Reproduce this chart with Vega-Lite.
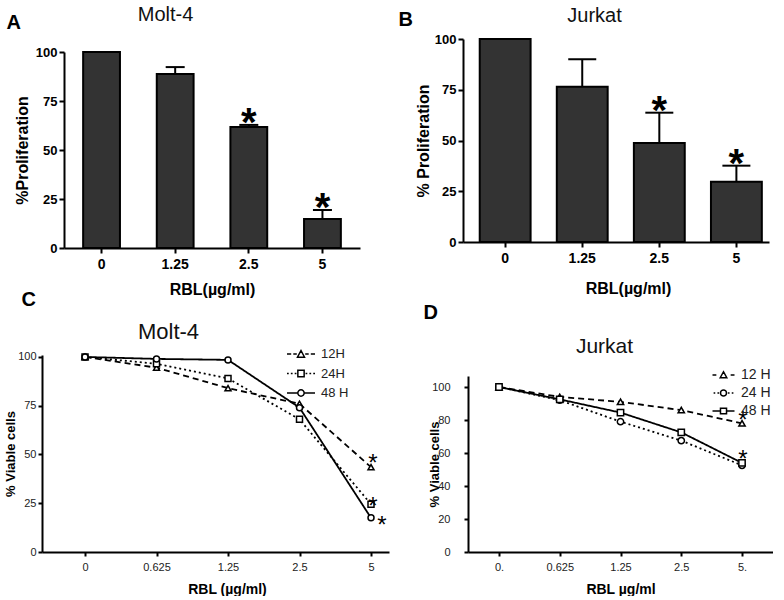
{
  "$schema": "https://vega.github.io/schema/vega-lite/v6.json",
  "background": "white",
  "padding": {"left": 4, "top": 4, "right": 0, "bottom": 0},
  "config": {
    "view": {"stroke": null},
    "font": "Liberation Sans",
    "axis": {"domainColor": "#000", "domainWidth": 2, "tickColor": "#000", "tickWidth": 2, "tickSize": 5, "labelColor": "#000", "titleColor": "#000", "grid": false, "labelFont": "Liberation Sans", "titleFont": "Liberation Sans"}
  },
  "bounds": "flush",
  "columns": 2,
  "spacing": {"row": 107, "column": 74},
  "resolve": {"scale": {"shape": "independent", "strokeDash": "independent", "stroke": "independent"}, "legend": {"shape": "independent", "strokeDash": "independent", "stroke": "independent"}},
  "concat": [
    {
      "width": 318, "height": 209,
      "resolve": {"scale": {"x": "independent", "y": "independent"}},
      "layer": [
        {
          "data": {"values": [
            {"dose": "0", "mean": 100, "upper": 100, "sig": false},
            {"dose": "1.25", "mean": 88.8, "upper": 92.3, "sig": false},
            {"dose": "2.5", "mean": 61.7, "upper": 62.8, "sig": true},
            {"dose": "5", "mean": 14.8, "upper": 19.4, "sig": true}
          ]},
          "encoding": {"x": {"field": "dose", "type": "nominal", "sort": null,
            "scale": {"range": [22, 318], "paddingInner": 0.5, "paddingOuter": 0.26},
            "axis": {"title": "RBL(µg/ml)", "labelAngle": 0, "labelFontSize": 14, "labelFontWeight": "bold", "labelPadding": 4, "titleFontSize": 16, "titleFontWeight": "bold", "titleY": 46, "titleBaseline": "alphabetic"}}},
          "layer": [
            {"mark": {"type": "bar", "fill": "#333", "stroke": "#000", "strokeWidth": 2, "opacity": 1},
             "encoding": {"y": {"field": "mean", "type": "quantitative", "scale": {"domain": [0, 100], "nice": false, "range": [209, 13]},
               "axis": {"values": [0, 25, 50, 75, 100], "offset": -22, "title": "%Proliferation", "labelFontSize": 13, "labelFontWeight": "bold", "titleFontSize": 16, "titleFontWeight": "bold", "titleX": -37, "titleBaseline": "alphabetic"}}}},
            {"transform": [{"filter": "datum.upper > datum.mean"}],
             "mark": {"type": "rule", "stroke": "#000", "strokeWidth": 2},
             "encoding": {"y": {"field": "mean", "type": "quantitative"}, "y2": {"field": "upper"}}},
            {"transform": [{"filter": "datum.upper > datum.mean"}],
             "mark": {"type": "tick", "color": "#000", "thickness": 2, "size": 19, "orient": "horizontal", "opacity": 1},
             "encoding": {"y": {"field": "upper", "type": "quantitative"}}},
            {"transform": [{"filter": "datum.sig"}],
             "mark": {"type": "text", "text": "*", "fontSize": 40, "fontWeight": "bold", "baseline": "alphabetic", "dy": 11, "color": "#000"},
             "encoding": {"y": {"field": "upper", "type": "quantitative"}}}
          ]
        },
        {
          "data": {"values": [{"k": "a"}]},
          "mark": {"type": "point", "opacity": 0},
          "encoding": {
            "x": {"field": "k", "type": "nominal", "axis": {"orient": "top", "title": "Molt-4", "labels": false, "ticks": false, "domain": false, "titleX": 123, "titleY": -19, "titleAlign": "center", "titleBaseline": "alphabetic", "titleFontSize": 20, "titleFontWeight": "normal", "titleColor": "#111"}},
            "y": {"field": "k", "type": "nominal", "axis": {"orient": "right", "title": "A", "labels": false, "ticks": false, "domain": false, "titleAngle": 0, "titleX": -354, "titleY": -11, "titleAlign": "left", "titleBaseline": "alphabetic", "titleFontSize": 20, "titleFontWeight": "bold"}}
          }
        }
      ]
    },
    {
      "width": 306, "height": 203,
      "resolve": {"scale": {"x": "independent", "y": "independent"}},
      "layer": [
        {
          "data": {"values": [
            {"dose": "0", "mean": 100, "upper": 100, "sig": false},
            {"dose": "1.25", "mean": 76.5, "upper": 90, "sig": false},
            {"dose": "2.5", "mean": 48.8, "upper": 63.7, "sig": true},
            {"dose": "5", "mean": 29.7, "upper": 37.6, "sig": true}
          ]},
          "encoding": {"x": {"field": "dose", "type": "nominal", "sort": null,
            "scale": {"paddingInner": 0.34, "paddingOuter": 0.155, "align": 0.7},
            "axis": {"title": "RBL(µg/ml)", "labelAngle": 0, "labelFontSize": 14, "labelFontWeight": "bold", "labelPadding": 4, "titleFontSize": 16, "titleFontWeight": "bold", "titleX": 165, "titleY": 51, "titleBaseline": "alphabetic"}}},
          "layer": [
            {"mark": {"type": "bar", "fill": "#333", "stroke": "#000", "strokeWidth": 2, "opacity": 1},
             "encoding": {"y": {"field": "mean", "type": "quantitative", "scale": {"domain": [0, 100], "nice": false},
               "axis": {"values": [0, 25, 50, 75, 100], "title": "% Proliferation", "labelFontSize": 13, "labelFontWeight": "bold", "titleFontSize": 16, "titleFontWeight": "bold", "titleX": -35, "titleBaseline": "alphabetic"}}}},
            {"transform": [{"filter": "datum.upper > datum.mean"}],
             "mark": {"type": "rule", "stroke": "#000", "strokeWidth": 2},
             "encoding": {"y": {"field": "mean", "type": "quantitative"}, "y2": {"field": "upper"}}},
            {"transform": [{"filter": "datum.upper > datum.mean"}],
             "mark": {"type": "tick", "color": "#000", "thickness": 2, "size": 28, "orient": "horizontal", "opacity": 1},
             "encoding": {"y": {"field": "upper", "type": "quantitative"}}},
            {"transform": [{"filter": "datum.sig"}],
             "mark": {"type": "text", "text": "*", "fontSize": 40, "fontWeight": "bold", "baseline": "alphabetic", "dy": 11, "color": "#000"},
             "encoding": {"y": {"field": "upper", "type": "quantitative"}}}
          ]
        },
        {
          "data": {"values": [{"k": "b"}]},
          "mark": {"type": "point", "opacity": 0},
          "encoding": {
            "x": {"field": "k", "type": "nominal", "axis": {"orient": "top", "title": "Jurkat", "labels": false, "ticks": false, "domain": false, "titleX": 131, "titleY": -18, "titleAlign": "center", "titleBaseline": "alphabetic", "titleFontSize": 20, "titleFontWeight": "normal", "titleColor": "#111"}},
            "y": {"field": "k", "type": "nominal", "axis": {"orient": "right", "title": "B", "labels": false, "ticks": false, "domain": false, "titleAngle": 0, "titleX": -371, "titleY": -14, "titleAlign": "left", "titleBaseline": "alphabetic", "titleFontSize": 20, "titleFontWeight": "bold"}}
          }
        }
      ]
    },
    {
      "width": 347, "height": 197,
      "resolve": {"scale": {"x": "independent", "y": "independent"}},
      "layer": [
        {
          "data": {"values": [
            {"dose": "0", "series": "12H", "v": 100},
            {"dose": "0.625", "series": "12H", "v": 94.5},
            {"dose": "1.25", "series": "12H", "v": 84},
            {"dose": "2.5", "series": "12H", "v": 76},
            {"dose": "5", "series": "12H", "v": 43.5},
            {"dose": "0", "series": "24H", "v": 100},
            {"dose": "0.625", "series": "24H", "v": 96.5},
            {"dose": "1.25", "series": "24H", "v": 89},
            {"dose": "2.5", "series": "24H", "v": 68},
            {"dose": "5", "series": "24H", "v": 24.5},
            {"dose": "0", "series": "48 H", "v": 100},
            {"dose": "0.625", "series": "48 H", "v": 99},
            {"dose": "1.25", "series": "48 H", "v": 98.5},
            {"dose": "2.5", "series": "48 H", "v": 74},
            {"dose": "5", "series": "48 H", "v": 17.5}
          ]},
          "encoding": {
            "x": {"field": "dose", "type": "ordinal",
              "scale": {"type": "point", "domain": ["0", "0.625", "1.25", "2.5", "5"], "padding": 0.4266, "align": 0.705},
              "axis": {"title": "RBL (µg/ml)", "labelAngle": 0, "labelFontSize": 11, "labelFont": "Liberation Sans Narrow, Liberation Sans", "labelColor": "#222", "labelPadding": 5, "tickSize": 4, "titleFontSize": 14, "titleFontWeight": "bold", "titleX": 185, "titleY": 41, "titleBaseline": "alphabetic"}},
            "y": {"field": "v", "type": "quantitative", "scale": {"domain": [0, 101], "nice": false},
              "axis": {"values": [0, 25, 50, 75, 100], "title": "% Viable cells", "labelFontSize": 11, "labelFont": "Liberation Sans Narrow, Liberation Sans", "labelColor": "#222", "tickSize": 4, "titleFontSize": 13, "titleFontWeight": "bold", "titleX": -28, "titleBaseline": "alphabetic"}}
          },
          "layer": [
            {"mark": {"type": "line", "color": "#000", "strokeWidth": 1.8},
             "encoding": {"strokeDash": {"field": "series", "type": "nominal", "scale": {"range": [[6, 4], [2, 3], [1, 0]]}, "legend": null}}},
            {"mark": {"type": "point", "filled": true, "fill": "#fff", "strokeWidth": 1.5, "size": 36, "opacity": 1},
             "encoding": {
               "shape": {"field": "series", "type": "nominal", "scale": {"range": ["triangle-up", "square", "circle"]}, "legend": null},
               "stroke": {"field": "series", "type": "nominal",
                 "scale": {"domain": ["12H", "24H", "48 H"], "range": ["#000", "#000", "#000"]},
                 "legend": {"orient": "none", "legendX": 251, "legendY": -9, "title": null, "labelFontSize": 13, "labelColor": "#222", "labelFont": "Liberation Sans",
                   "symbolSize": 196, "symbolStrokeWidth": 1.5, "symbolFillColor": "#fff", "labelOffset": 12, "rowPadding": 4.5, "padding": 0,
                   "encoding": {"symbols": {
                     "shape": {"value": {"expr": "datum.value === '12H' ? 'M-2,0H-1.4M-1.1,0H-0.6M0.6,0H1.1M1.4,0H2M-0.5,0.45L0,-0.5L0.5,0.45Z' : datum.value === '24H' ? 'M-2,0H-1.75M-1.45,0H-1.2M-0.9,0H-0.65M0.65,0H0.9M1.2,0H1.45M1.75,0H2M-0.45,-0.45H0.45V0.45H-0.45Z' : 'M-2,0H-0.45M0.45,0H2M-0.45,0A0.45,0.45 0 1,0 0.45,0A0.45,0.45 0 1,0 -0.45,0Z'"}},
                     "fill": {"value": "#fff"}, "strokeWidth": {"value": 1.5}, "opacity": {"value": 1}}},
                   "encode": {"symbols": {"update": {
                     "shape": {"signal": "datum.value === '12H' ? 'M-2,0H-1.4M-1.1,0H-0.6M0.6,0H1.1M1.4,0H2M-0.5,0.45L0,-0.5L0.5,0.45Z' : datum.value === '24H' ? 'M-2,0H-1.75M-1.45,0H-1.2M-0.9,0H-0.65M0.65,0H0.9M1.2,0H1.45M1.75,0H2M-0.45,-0.45H0.45V0.45H-0.45Z' : 'M-2,0H-0.45M0.45,0H2M-0.45,0A0.45,0.45 0 1,0 0.45,0A0.45,0.45 0 1,0 -0.45,0Z'"},
                     "fill": {"value": "#fff"}, "strokeWidth": {"value": 1.5}, "opacity": {"value": 1}}}}}}
             }},
            {"data": {"values": [{"dose": "5", "v": 48.7}, {"dose": "5", "v": 26.7}]},
             "mark": {"type": "text", "text": "*", "fontSize": 24, "baseline": "alphabetic", "dy": 14, "dx": 2, "color": "#000"}},
            {"data": {"values": [{"dose": "5", "v": 17}]},
             "mark": {"type": "text", "text": "*", "fontSize": 24, "baseline": "alphabetic", "dy": 14, "dx": 11, "color": "#000"}}
          ]
        },
        {
          "data": {"values": [{"k": "c"}]},
          "mark": {"type": "point", "opacity": 0},
          "encoding": {
            "x": {"field": "k", "type": "nominal", "axis": {"orient": "top", "title": "Molt-4", "labels": false, "ticks": false, "domain": false, "titleX": 126, "titleY": -17, "titleAlign": "center", "titleBaseline": "alphabetic", "titleFontSize": 22, "titleFontWeight": "normal", "titleColor": "#111"}},
            "y": {"field": "k", "type": "nominal", "axis": {"orient": "right", "title": "C", "labels": false, "ticks": false, "domain": false, "titleAngle": 0, "titleX": -368, "titleY": -50, "titleAlign": "left", "titleBaseline": "alphabetic", "titleFontSize": 20, "titleFontWeight": "bold"}}
          }
        }
      ]
    },
    {
      "width": 310, "height": 197,
      "resolve": {"scale": {"x": "independent", "y": "independent"}},
      "layer": [
        {
          "data": {"values": [
            {"dose": "0.", "series": "12 H", "v": 100},
            {"dose": "0.625", "series": "12 H", "v": 94},
            {"dose": "1.25", "series": "12 H", "v": 91},
            {"dose": "2.5", "series": "12 H", "v": 86},
            {"dose": "5.", "series": "12 H", "v": 78},
            {"dose": "0.", "series": "24 H", "v": 100},
            {"dose": "0.625", "series": "24 H", "v": 92},
            {"dose": "1.25", "series": "24 H", "v": 79},
            {"dose": "2.5", "series": "24 H", "v": 67.5},
            {"dose": "5.", "series": "24 H", "v": 52.5},
            {"dose": "0.", "series": "48 H", "v": 100},
            {"dose": "0.625", "series": "48 H", "v": 92.5},
            {"dose": "1.25", "series": "48 H", "v": 84.5},
            {"dose": "2.5", "series": "48 H", "v": 72.5},
            {"dose": "5.", "series": "48 H", "v": 54}
          ]},
          "encoding": {
            "x": {"field": "dose", "type": "ordinal",
              "scale": {"type": "point", "domain": ["0.", "0.625", "1.25", "2.5", "5."], "padding": 0.51, "range": [5, 310]},
              "axis": {"title": "RBL  µg/ml", "labelAngle": 0, "labelFontSize": 11, "labelFont": "Liberation Sans Narrow, Liberation Sans", "labelColor": "#222", "labelPadding": 5, "tickSize": 4, "titleFontSize": 14, "titleFontWeight": "bold", "titleY": 41, "titleBaseline": "alphabetic"}},
            "y": {"field": "v", "type": "quantitative", "scale": {"domain": [0, 106.67], "nice": false, "range": [197, 21]},
              "axis": {"values": [0, 20, 40, 60, 80, 100], "offset": -5, "title": "% Viable cells", "labelFontSize": 11, "labelFont": "Liberation Sans Narrow, Liberation Sans", "labelColor": "#222", "tickSize": 4, "labelPadding": 14, "titleFontSize": 13, "titleFontWeight": "bold", "titleX": -30, "titleBaseline": "alphabetic"}}
          },
          "layer": [
            {"mark": {"type": "line", "color": "#000", "strokeWidth": 1.8},
             "encoding": {"strokeDash": {"field": "series", "type": "nominal", "scale": {"range": [[6, 4], [2, 3], [1, 0]]}, "legend": null}}},
            {"mark": {"type": "point", "filled": true, "fill": "#fff", "strokeWidth": 1.5, "size": 40, "opacity": 1},
             "encoding": {
               "shape": {"field": "series", "type": "nominal", "scale": {"range": ["triangle-up", "circle", "square"]}, "legend": null},
               "stroke": {"field": "series", "type": "nominal",
                 "scale": {"domain": ["12 H", "24 H", "48 H"], "range": ["#000", "#000", "#000"]},
                 "legend": {"orient": "none", "legendX": 253.5, "legendY": 13, "title": null, "labelFontSize": 14, "labelColor": "#222", "labelFont": "Liberation Sans",
                   "symbolSize": 121, "symbolStrokeWidth": 1.5, "symbolFillColor": "#fff", "labelOffset": 10.5, "rowPadding": 4, "padding": 0,
                   "encoding": {"symbols": {
                     "shape": {"value": {"expr": "datum.value === '12 H' ? 'M-2,0H-1.3M1.3,0H2M-0.6,0.5L0,-0.6L0.6,0.5Z' : datum.value === '24 H' ? 'M-1.8,0H-1.5M-1.1,0H-0.8M0.8,0H1.1M1.5,0H1.8M-0.55,0A0.55,0.55 0 1,0 0.55,0A0.55,0.55 0 1,0 -0.55,0Z' : 'M-2,0H-0.55M0.55,0H2M-0.55,-0.5H0.55V0.5H-0.55Z'"}},
                     "fill": {"value": "#fff"}, "strokeWidth": {"value": 1.5}, "opacity": {"value": 1}}},
                   "encode": {"symbols": {"update": {
                     "shape": {"signal": "datum.value === '12 H' ? 'M-2,0H-1.3M1.3,0H2M-0.6,0.5L0,-0.6L0.6,0.5Z' : datum.value === '24 H' ? 'M-1.8,0H-1.5M-1.1,0H-0.8M0.8,0H1.1M1.5,0H1.8M-0.55,0A0.55,0.55 0 1,0 0.55,0A0.55,0.55 0 1,0 -0.55,0Z' : 'M-2,0H-0.55M0.55,0H2M-0.55,-0.5H0.55V0.5H-0.55Z'"},
                     "fill": {"value": "#fff"}, "strokeWidth": {"value": 1.5}, "opacity": {"value": 1}}}}}}
             }},
            {"data": {"values": [{"dose": "5.", "v": 83.6}, {"dose": "5.", "v": 60}]},
             "mark": {"type": "text", "text": "*", "fontSize": 24, "baseline": "alphabetic", "dy": 14, "dx": 1, "color": "#000"}}
          ]
        },
        {
          "data": {"values": [{"k": "d"}]},
          "mark": {"type": "point", "opacity": 0},
          "encoding": {
            "x": {"field": "k", "type": "nominal", "axis": {"orient": "top", "title": "Jurkat", "labels": false, "ticks": false, "domain": false, "titleX": 141, "titleY": -3, "titleAlign": "center", "titleBaseline": "alphabetic", "titleFontSize": 21, "titleFontWeight": "normal", "titleColor": "#111"}},
            "y": {"field": "k", "type": "nominal", "axis": {"orient": "right", "title": "D", "labels": false, "ticks": false, "domain": false, "titleAngle": 0, "titleX": -350, "titleY": -37, "titleAlign": "left", "titleBaseline": "alphabetic", "titleFontSize": 20, "titleFontWeight": "bold"}}
          }
        }
      ]
    }
  ]
}
